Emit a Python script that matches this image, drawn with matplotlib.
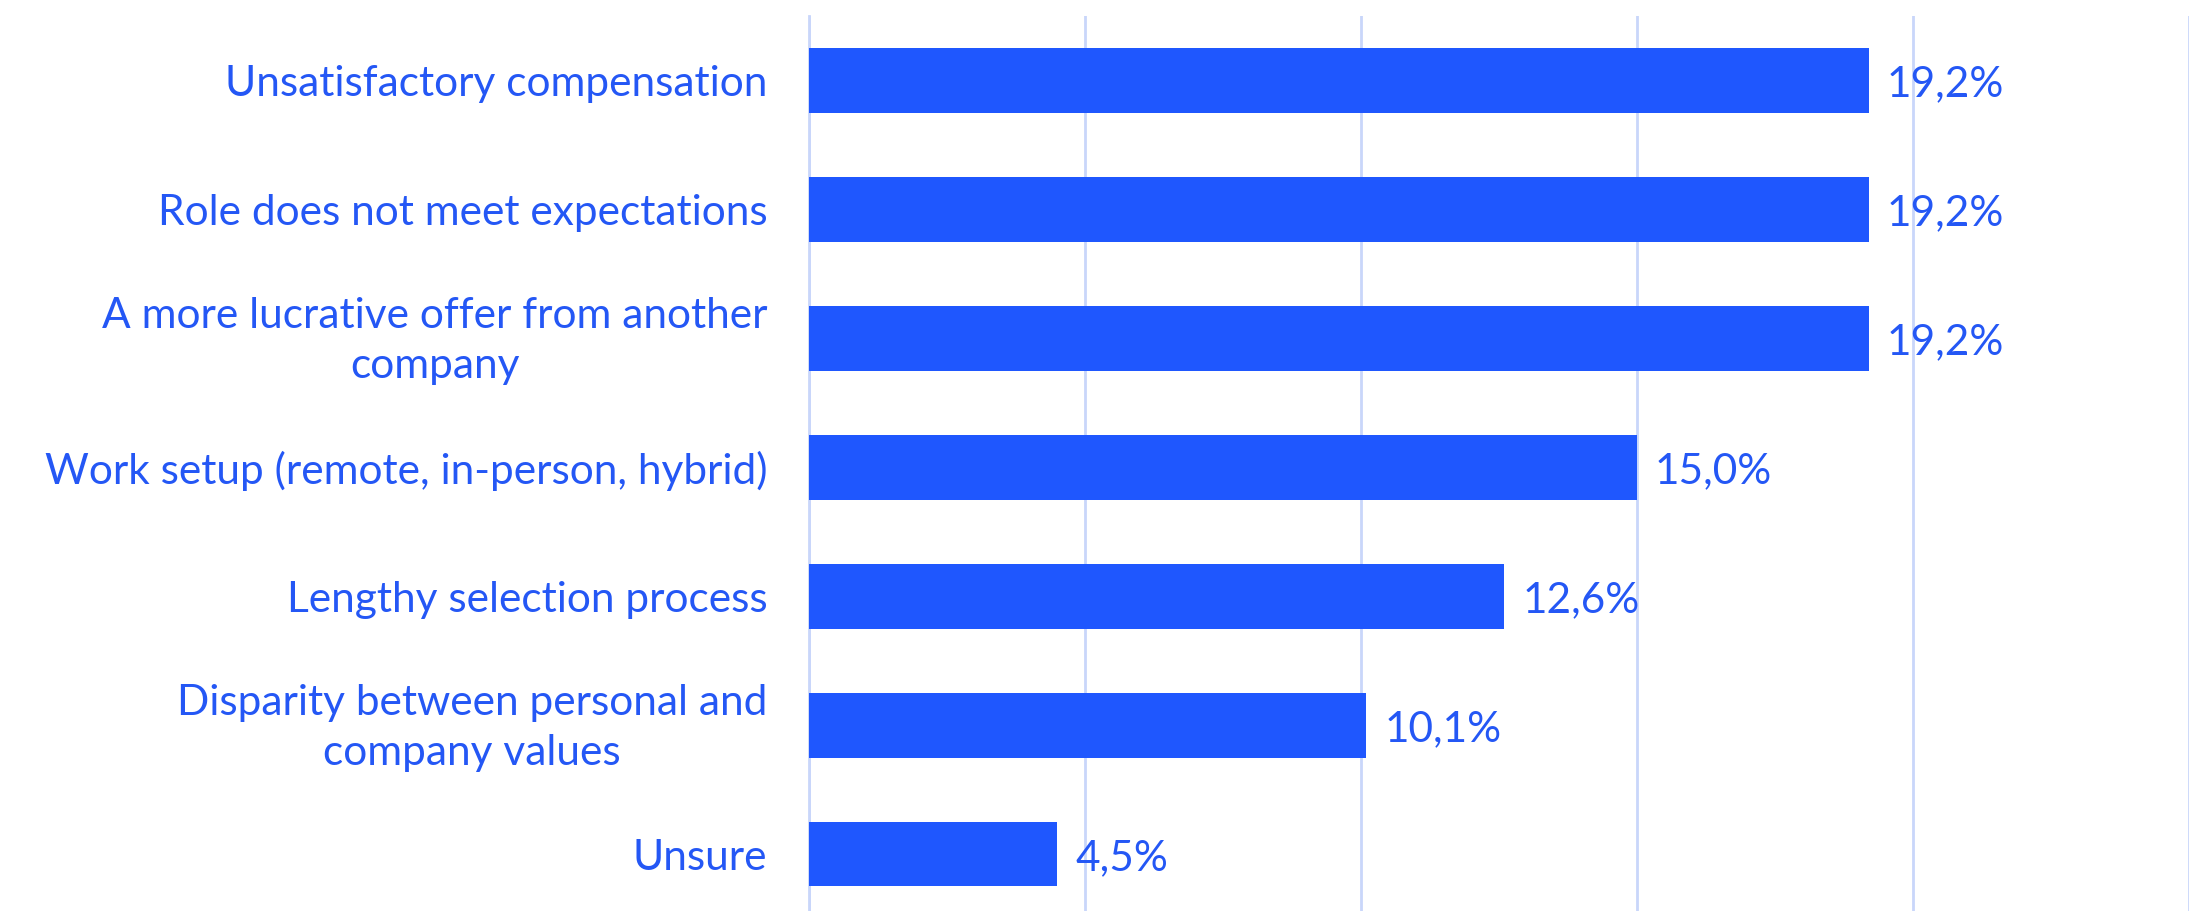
import matplotlib
matplotlib.use("Agg")
import matplotlib.pyplot as plt
import matplotlib.transforms as mtransforms

# data
categories = [
    "Unsatisfactory compensation",
    "Role does not meet expectations",
    "A more lucrative offer from another\ncompany",
    "Work setup (remote, in-person, hybrid)",
    "Lengthy selection process",
    "Disparity between personal and\ncompany values",
    "Unsure",
]
values = [19.2, 19.2, 19.2, 15.0, 12.6, 10.1, 4.5]
x_ticks = [0, 5, 10, 15, 20, 25]

bar_color = "#1f57fe"
text_color = "#2457f5"
grid_color = "#c9d6fa"

plt.rcParams["font.family"] = ["Lato", "DejaVu Sans"]

fig = plt.figure(figsize=(22.03, 9.11), dpi=100)
ax = fig.add_axes([0.3672, 0.0, 0.6264, 0.9824])

y = list(range(len(categories)))
ax.barh(y, values, height=0.5, color=bar_color, zorder=3)

# value labels with decimal comma
for yi, v in zip(y, values):
    ax.annotate(f"{v:.1f}".replace(".", ",") + "%", xy=(v, yi),
                xytext=(13, -2.5), textcoords="offset points",
                va="center", ha="left", fontsize=30.5, color=text_color, zorder=4)

ax.set_xlim(0, 25)
ax.set_ylim(6.44, -0.5)
ax.set_xticks(x_ticks)
ax.set_xticklabels([])
ax.set_yticks(y)
ax.set_yticklabels(categories, fontsize=30.5, color=text_color,
                   multialignment="center", linespacing=1.38)
ax.tick_params(axis="both", length=0)
ax.tick_params(axis="y", pad=30)

# two-line labels sit a touch higher in the original
shift_up = mtransforms.ScaledTranslation(0, 5 / 72, fig.dpi_scale_trans)
for lab in ax.get_yticklabels():
    if "\n" in lab.get_text():
        lab.set_transform(lab.get_transform() + shift_up)

ax.grid(axis="x", color=grid_color, linewidth=2, zorder=0)
for s in ["top", "right", "bottom"]:
    ax.spines[s].set_visible(False)
ax.spines["left"].set_color(grid_color)
ax.spines["left"].set_linewidth(2)

fig.savefig("out.png", dpi=100)
